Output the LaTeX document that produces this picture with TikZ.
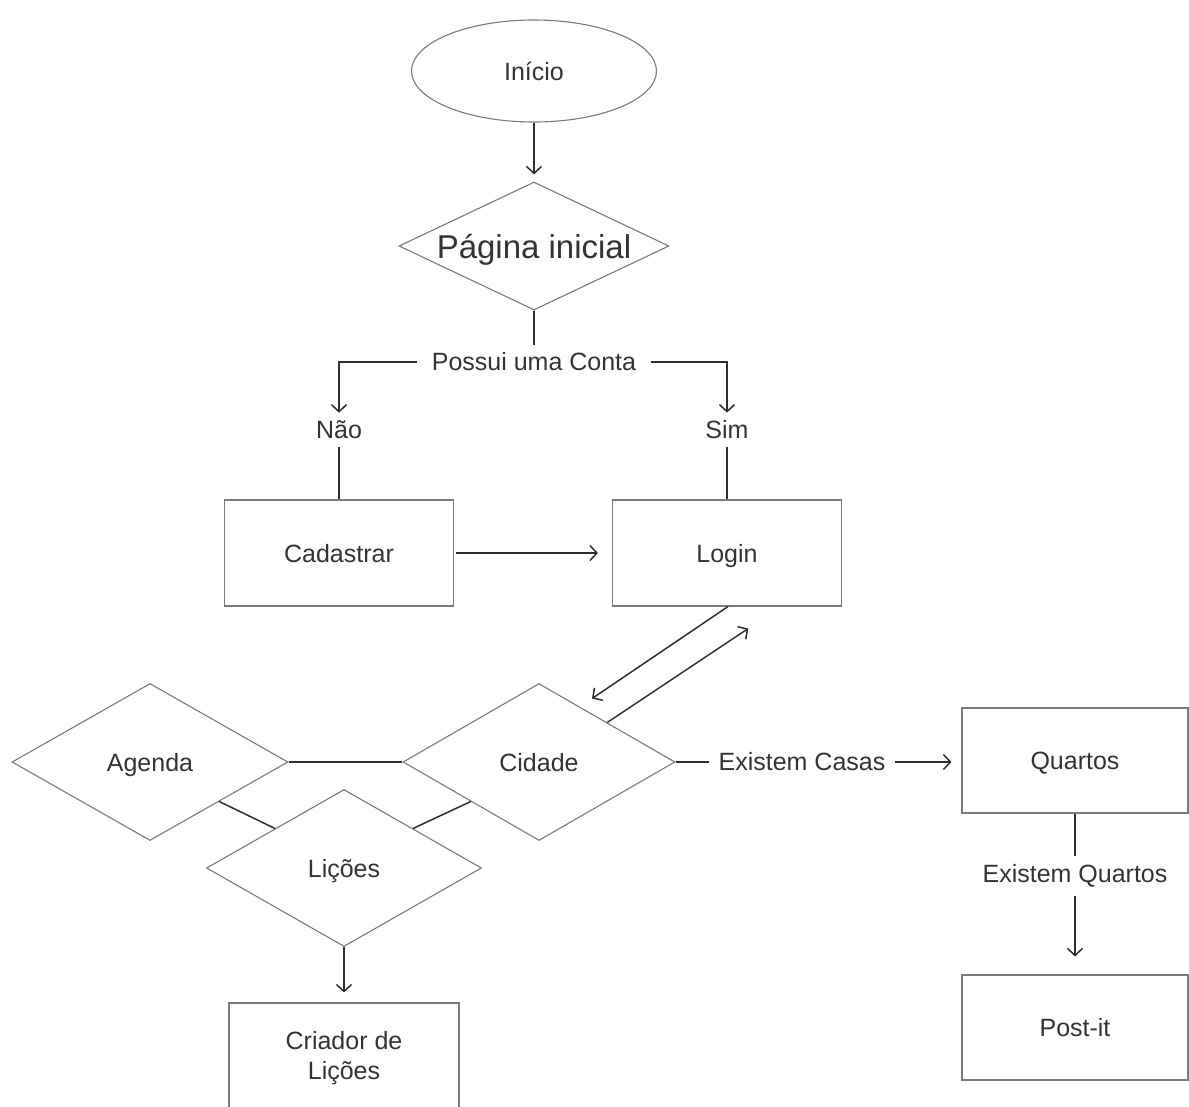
\documentclass[tikz,border=0pt]{standalone}
\usepackage{fontspec}
\setmainfont{Liberation Sans}
\usepackage{tikz}
\usetikzlibrary{shapes.geometric,arrows.meta}
\usepackage{xcolor}
\definecolor{FormaCinza}{HTML}{7a7a7a}
\definecolor{SetaEscura}{HTML}{2e2e2e}
\definecolor{TextoEscuro}{HTML}{333333}

\tikzset{
  texto/.style={text=TextoEscuro, font=\fontsize{25pt}{30pt}\selectfont},
  forma/.style={texto, draw=FormaCinza, line width=1.1pt, inner sep=0pt,
                text height=18pt, text depth=0pt},
  caixa/.style={forma, rectangle, minimum width=#1},
  losango/.style={forma, diamond, aspect=2.1},
  rotulo/.style={texto, inner xsep=15pt, inner ysep=8pt},
  linha/.style={draw=SetaEscura, line width=1.5pt},
  seta/.style={linha, -{Straight Barb[length=7pt,width=15pt,line width=1.5pt]}}
}

\begin{document}
\begin{tikzpicture}[x=1pt, y=-1pt]
   \useasboundingbox (0,0) rectangle (1189,1106);
   \clip (0,0) rectangle (1189,1106);

   \node[forma, ellipse, minimum width=245pt, minimum height=102pt] (inicio) at (534,71) {Início};
   \node[losango, minimum width=270pt, minimum height=128pt, text height=24pt, text depth=0pt,
         font=\fontsize{33pt}{38pt}\selectfont] (pagina) at (534,246) {Página inicial};
   \node[rotulo] (possui) at (534,362) {Possui uma Conta};

   \foreach \x/\y/\name/\txt in {339/430/nao/Não, 727/430/sim/Sim,
                                 1075/876/existq/Existem Quartos} {
    \node[rotulo] (\name) at (\x,\y) {\txt};
   }
   \node[rotulo, inner xsep=9pt] (casas) at (802,762) {Existem Casas};

   \node[caixa=229pt, minimum height=106pt] (cadastrar) at (339,553) {Cadastrar};
   \node[caixa=229pt, minimum height=106pt] (login) at (727,553) {Login};
   \node[caixa=226pt, minimum height=105pt] (quartos) at (1075,760.5) {Quartos};
   \node[caixa=226pt, minimum height=105pt] (postit) at (1075,1027.5) {Post-it};
   \node[caixa=230pt, minimum height=110pt, align=center, text height=, text depth=]
        (criador) at (344,1058) {Criador de\\Lições};

   \node[losango, minimum width=276pt, minimum height=157pt] (agenda) at (150,762) {Agenda};
   \node[losango, minimum width=272pt, minimum height=157pt] (cidade) at (539,762) {Cidade};
   \node[losango, minimum width=275pt, minimum height=157pt] (licoes) at (344,868) {Lições};

   \draw[seta, shorten >=7pt] (inicio) -- (pagina);
   \draw[linha] (pagina.south) -- (possui.north);
   \draw[seta] (possui.west) -| (nao.north);
   \draw[seta] (possui.east) -| (sim.north);
   \draw[linha] (nao.south) -- (cadastrar.north);
   \draw[linha] (sim.south) -- (login.north);
   \draw[seta, shorten <=2pt, shorten >=14pt] (cadastrar.east) -- (login.west);

   \draw[seta] ([xshift=1pt]login.south) -- ++(-136,92);
   \draw[seta] (cidade.north east) -- ++(141,-94);

   \draw[linha] (agenda.east) -- (cidade.west);
   \draw[linha] (agenda.south east) -- (licoes.north west);
   \draw[linha] (cidade.south west) -- (licoes.north east);
   \draw[seta, shorten >=10pt] (licoes.south) -- (criador.north);

   \draw[linha] (cidade.east) -- (casas.west);
   \draw[seta, shorten >=10pt] (casas.east) -- (casas.east -| quartos.west);
   \draw[linha] (quartos.south) -- (existq.north);
   \draw[seta, shorten >=18pt] (existq.south) -- (postit.north);
  \end{tikzpicture}
\end{document}
